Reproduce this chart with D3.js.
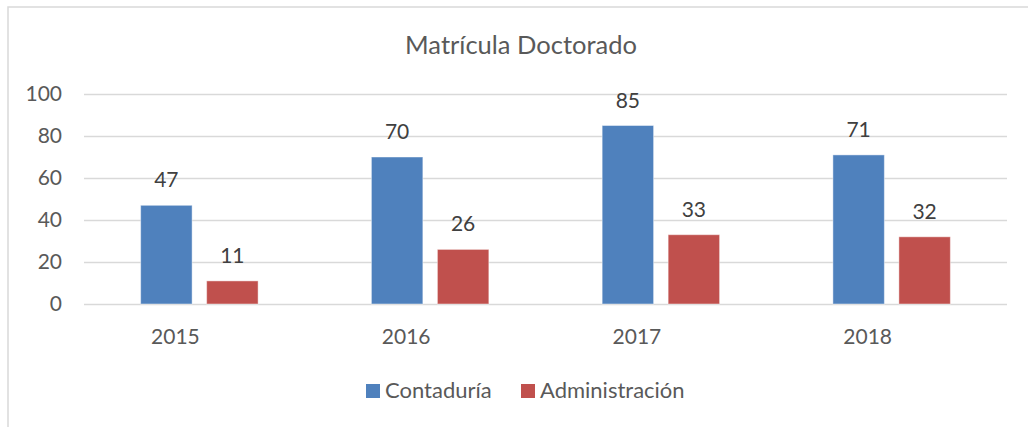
<!DOCTYPE html>
<html>
<head>
<meta charset="utf-8">
<script src="https://cdn.jsdelivr.net/npm/d3@7"></script>
<style>
  body { margin: 0; background: #fff; }
  svg { display: block; font-family: Lato, "Open Sans", sans-serif; }
</style>
</head>
<body>
<script>
// datos de la gráfica
const years = ["2015", "2016", "2017", "2018"];
const seriesNames = ["Contaduría", "Administración"];
const contaduria = [47, 70, 85, 71];
const administracion = [11, 26, 33, 32];
const yTicks = [0, 20, 40, 60, 80, 100];

const colors = ["#4F81BD", "#C0504D"];
const textColor = "#595959";
const gridColor = "#d9d9d9";

const width = 1028, height = 427;
const margin = {top: 94, right: 21, bottom: 123, left: 84};

const svg = d3.select("body").append("svg")
  .attr("width", width)
  .attr("height", height);

// marco del gráfico (recortado a la derecha y abajo)
svg.append("path")
  .attr("d", `M8,${height} L8,7 L${width},7`)
  .attr("fill", "none")
  .attr("stroke", gridColor)
  .attr("stroke-width", 1.5);

// titulo
svg.append("text")
  .attr("x", 521)
  .attr("y", 54)
  .attr("text-anchor", "middle")
  .attr("fill", textColor)
  .style("font-size", "25.5px")
  .text("Matrícula Doctorado");

const x0 = d3.scaleBand()
  .domain(years)
  .range([margin.left, width - margin.right]);

const y = d3.scaleLinear()
  .domain([0, 100])
  .range([height - margin.bottom, margin.top]);

const barW = x0.bandwidth() * 0.223;
const gap = x0.bandwidth() * 0.063;
const x1 = d3.scaleOrdinal()
  .domain([0, 1])
  .range([-gap / 2 - barW, gap / 2]);

// lineas de cuadricula + etiquetas del eje y
const yAxis = svg.append("g")
  .attr("transform", `translate(${margin.left},0)`)
  .call(d3.axisLeft(y).tickValues(yTicks).tickSize(-(width - margin.left - margin.right)).tickPadding(22));
yAxis.select(".domain").remove();
yAxis.selectAll(".tick line").attr("stroke", gridColor).attr("stroke-width", 1.5);
yAxis.selectAll(".tick text")
  .attr("fill", textColor)
  .style("font-size", "21px")
  .style("font-family", "Lato, sans-serif");

// etiquetas de categorias (desplazadas a la izquierda como en el original)
const xAxis = svg.append("g")
  .attr("transform", `translate(0,${height - margin.bottom})`)
  .call(d3.axisBottom(x0).tickSize(0).tickPadding(0));
xAxis.select(".domain").remove();
xAxis.selectAll(".tick text")
  .attr("fill", textColor)
  .attr("dy", 0)
  .attr("y", 40)
  .attr("x", -24)
  .style("font-size", "21px")
  .style("font-family", "Lato, sans-serif");

const series = [contaduria, administracion];

const groups = svg.append("g")
  .selectAll("g")
  .data(series)
  .join("g")
  .attr("fill", (d, i) => colors[i]);

groups.each(function(vals, s) {
  const g = d3.select(this);
  g.selectAll("rect")
    .data(vals)
    .join("rect")
    .attr("x", (d, i) => x0(years[i]) + x0.bandwidth() / 2 + x1(s))
    .attr("y", d => y(d))
    .attr("width", barW)
    .attr("height", d => y(0) - y(d))
    .attr("stroke", "#ffffff")
    .attr("stroke-opacity", 0.45)
    .attr("stroke-width", 1);

  g.selectAll("text")
    .data(vals)
    .join("text")
    .attr("x", (d, i) => x0(years[i]) + x0.bandwidth() / 2 + x1(s) + barW / 2)
    .attr("y", d => y(d) - 18)
    .attr("text-anchor", "middle")
    .attr("fill", "#404040")
    .style("font-size", "21px")
    .text(d => d);
});

// leyenda
const legend = svg.append("g").attr("transform", "translate(366,384)");
const legendX = [0, 155];
seriesNames.forEach((name, i) => {
  const item = legend.append("g").attr("transform", `translate(${legendX[i]},0)`);
  item.append("rect")
    .attr("width", 14)
    .attr("height", 14)
    .attr("fill", colors[i]);
  item.append("text")
    .attr("x", 19)
    .attr("y", 14)
    .attr("fill", textColor)
    .style("font-size", "22px")
    .text(name);
});
</script>
</body>
</html>
